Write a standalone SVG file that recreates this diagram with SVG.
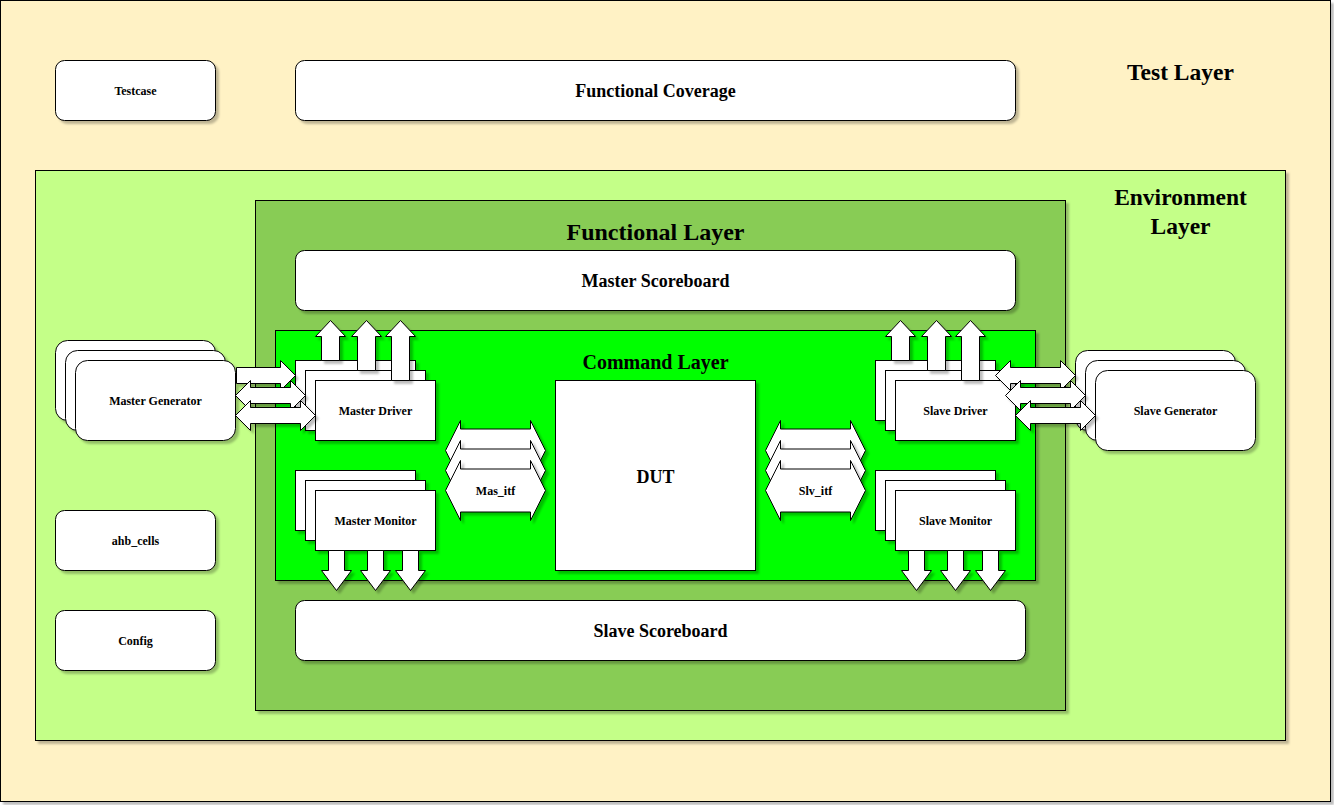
<svg xmlns="http://www.w3.org/2000/svg" width="1334" height="805" viewBox="0 0 1334 805">
<defs>
<filter id="sh" x="-10%" y="-10%" width="130%" height="140%">
<feDropShadow dx="3" dy="3" stdDeviation="0.8" flood-color="#000" flood-opacity="0.25"/>
</filter>
<style>
.box{fill:#fff;stroke:#000;stroke-width:1;filter:url(#sh)}
.arr{fill:#fff;stroke:#000;stroke-width:1;filter:url(#sh)}
text{font-family:"Liberation Serif","Times New Roman",serif;font-weight:bold;fill:#000;text-anchor:middle;dominant-baseline:central}
.s12{font-size:12px}
.s18{font-size:18px}
.s20{font-size:20px}
.s23{font-size:23.5px}
.s24{font-size:24px}
</style>
</defs>
<rect x="0" y="0" width="1334" height="805" fill="#fff"/>
<g transform="translate(0.5,0.5)">
<g id="test_layer">
<rect x="0" y="0" width="1330" height="801" fill="#FFF2C5" stroke="#000" filter="url(#sh)"/>
<text class="s23" x="1180" y="71">Test Layer</text>
</g>
<g id="testcase">
<rect class="box" x="55" y="60" width="160" height="60" rx="9"/>
<text class="s12" x="135" y="90">Testcase</text>
</g>
<g id="functional_coverage">
<rect class="box" x="295" y="60" width="720" height="60" rx="9"/>
<text class="s18" x="655" y="90">Functional Coverage</text>
</g>
<g id="environment_layer">
<rect x="35" y="170" width="1250" height="570" fill="#C4FF88" stroke="#000" filter="url(#sh)"/>
<text class="s23" x="1180" y="196">Environment</text>
<text class="s23" x="1180" y="225">Layer</text>
</g>
<g id="functional_layer">
<rect x="255" y="200" width="810" height="510" fill="#88CC55" stroke="#000" filter="url(#sh)"/>
<text class="s24" x="655" y="231">Functional Layer</text>
</g>
<g id="master_scoreboard">
<rect class="box" x="295" y="250" width="720" height="60" rx="9"/>
<text class="s18" x="655" y="280">Master Scoreboard</text>
</g>
<g id="slave_scoreboard">
<rect class="box" x="295" y="600" width="730" height="60" rx="9"/>
<text class="s18" x="660" y="630">Slave Scoreboard</text>
</g>
<g id="command_layer">
<rect x="275" y="330" width="760" height="250" fill="#00FF00" stroke="#000" filter="url(#sh)"/>
<text class="s20" x="655" y="361">Command Layer</text>
</g>
<g id="dut">
<rect class="box" x="555" y="380" width="200" height="190"/>
<text class="s18" x="655" y="476">DUT</text>
</g>
<g id="master_generator">
<rect class="box" x="55" y="340" width="160" height="80" rx="12"/>
<rect class="box" x="65" y="350" width="160" height="80" rx="12"/>
<rect class="box" x="75" y="360" width="160" height="80" rx="12"/>
<text class="s12" x="155" y="400">Master Generator</text>
</g>
<g id="slave_generator">
<rect class="box" x="1075" y="350" width="160" height="80" rx="12"/>
<rect class="box" x="1085" y="360" width="160" height="80" rx="12"/>
<rect class="box" x="1095" y="370" width="160" height="80" rx="12"/>
<text class="s12" x="1175" y="410">Slave Generator</text>
</g>
<g id="ahb_cells">
<rect class="box" x="55" y="510" width="160" height="60" rx="9"/>
<text class="s12" x="135" y="540">ahb_cells</text>
</g>
<g id="config">
<rect class="box" x="55" y="610" width="160" height="60" rx="9"/>
<text class="s12" x="135" y="640">Config</text>
</g>
<g id="master_driver">
<rect class="box" x="295" y="360" width="120" height="60"/>
<rect class="box" x="305" y="370" width="120" height="60"/>
<rect class="box" x="315" y="380" width="120" height="60"/>
<text class="s12" x="375" y="410">Master Driver</text>
</g>
<g id="master_monitor">
<rect class="box" x="295" y="470" width="120" height="60"/>
<rect class="box" x="305" y="480" width="120" height="60"/>
<rect class="box" x="315" y="490" width="120" height="60"/>
<text class="s12" x="375" y="520">Master Monitor</text>
</g>
<g id="slave_driver">
<rect class="box" x="875" y="360" width="120" height="60"/>
<rect class="box" x="885" y="370" width="120" height="60"/>
<rect class="box" x="895" y="380" width="120" height="60"/>
<text class="s12" x="955" y="410">Slave Driver</text>
</g>
<g id="slave_monitor">
<rect class="box" x="875" y="470" width="120" height="60"/>
<rect class="box" x="885" y="480" width="120" height="60"/>
<rect class="box" x="895" y="490" width="120" height="60"/>
<text class="s12" x="955" y="520">Slave Monitor</text>
</g>
<g id="mas_itf">
<polygon class="arr" points="445,450 460,420 460,428.5 530,428.5 530,420 545,450 530,480 530,471.5 460,471.5 460,480"/>
<polygon class="arr" points="445,470 460,440 460,448.5 530,448.5 530,440 545,470 530,500 530,491.5 460,491.5 460,500"/>
<polygon class="arr" points="445,490 460,460 460,468.5 530,468.5 530,460 545,490 530,520 530,511.5 460,511.5 460,520"/>
<text class="s12" x="495" y="490">Mas_itf</text>
</g>
<g id="slv_itf">
<polygon class="arr" points="765,450 780,420 780,428.5 850,428.5 850,420 865,450 850,480 850,471.5 780,471.5 780,480"/>
<polygon class="arr" points="765,470 780,440 780,448.5 850,448.5 850,440 865,470 850,500 850,491.5 780,491.5 780,500"/>
<polygon class="arr" points="765,490 780,460 780,468.5 850,468.5 850,460 865,490 850,520 850,511.5 780,511.5 780,520"/>
<text class="s12" x="815" y="490">Slv_itf</text>
</g>
<g id="connectors">
<polygon class="arr" points="236,367 280,367 280,360 295,375 280,390 280,383 236,383"/>
<polygon class="arr" points="235,395 250,380 250,387 290,387 290,380 305,395 290,410 290,403 250,403 250,410"/>
<polygon class="arr" points="235,415 250,400 250,407 300,407 300,400 315,415 300,430 300,423 250,423 250,430"/>
<polygon class="arr" points="995,375 1010,360 1010,367 1060,367 1060,360 1075,375 1060,390 1060,383 1010,383 1010,390"/>
<polygon class="arr" points="1005,395 1020,380 1020,387 1070,387 1070,380 1085,395 1070,410 1070,403 1020,403 1020,410"/>
<polygon class="arr" points="1015,415 1030,400 1030,407 1080,407 1080,400 1095,415 1080,430 1080,423 1030,423 1030,430"/>
<polygon class="arr" points="330,320 345,336 339,336 339,360 321,360 321,336 315,336"/>
<polygon class="arr" points="366,320 381,336 375,336 375,370 357,370 357,336 351,336"/>
<polygon class="arr" points="400,320 415,336 409,336 409,380 391,380 391,336 385,336"/>
<polygon class="arr" points="900,320 915,336 909,336 909,360 891,360 891,336 885,336"/>
<polygon class="arr" points="936,320 951,336 945,336 945,370 927,370 927,336 921,336"/>
<polygon class="arr" points="970,320 985,336 979,336 979,380 961,380 961,336 955,336"/>
<polygon class="arr" points="328,550 344,550 344,570 351,570 336,590 321,570 328,570"/>
<polygon class="arr" points="367,550 383,550 383,570 390,570 375,590 360,570 367,570"/>
<polygon class="arr" points="402,550 418,550 418,570 425,570 410,590 395,570 402,570"/>
<polygon class="arr" points="908,550 924,550 924,570 931,570 916,590 901,570 908,570"/>
<polygon class="arr" points="947,550 963,550 963,570 970,570 955,590 940,570 947,570"/>
<polygon class="arr" points="982,550 998,550 998,570 1005,570 990,590 975,570 982,570"/>
</g>
</g>
</svg>
